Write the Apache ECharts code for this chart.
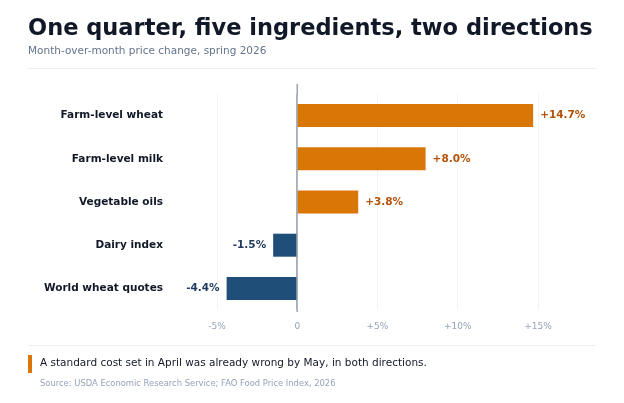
<!DOCTYPE html>
<html>
<head>
<meta charset="utf-8">
<script src="https://cdn.jsdelivr.net/npm/echarts@6/dist/echarts.min.js"></script>
<style>
  html, body { margin: 0; padding: 0; background: #fff; }
  #chart { width: 624px; height: 403px; }
</style>
</head>
<body>
<div id="chart"></div>
<script>
var categories = ['Farm-level wheat', 'Farm-level milk', 'Vegetable oils', 'Dairy index', 'World wheat quotes'];
var changes = [14.7, 8.0, 3.8, -1.5, -4.4];
var tickValues = [-5, 0, 5, 10, 15];

var myChart = echarts.init(document.getElementById('chart'));
var font = 'DejaVu Sans, sans-serif';

option = {
    backgroundColor: '#fff',
    textStyle: { fontFamily: font },
    grid: { left: 217, right: 70, top: 94, bottom: 93 },
    xAxis: {
        type: 'value',
        min: -5,
        max: 16,
        interval: 5,
        axisLine: { show: false },
        axisTick: { show: false },
        splitLine: { showMaxLine: false, lineStyle: { color: '#f1f3f5', width: 1 } },
        axisLabel: {
            color: '#94a3b8',
            fontSize: 9,
            margin: 12,
            customValues: tickValues,
            formatter: function (v) {
                if (v === 0) return '0';
                return (v > 0 ? '+' : '') + v + '%';
            }
        }
    },
    yAxis: {
        type: 'category',
        inverse: true,
        data: categories,
        axisLine: { show: false },
        axisTick: { show: false },
        axisLabel: { color: '#111827', fontSize: 10.5, fontWeight: 'bold', margin: 54 }
    },
    series: [{
        type: 'bar',
        barWidth: 23,
        data: changes.map(function (v) {
            return {
                value: v,
                itemStyle: { color: v >= 0 ? '#d97706' : '#1f4e79' },
                label: {
                    position: v >= 0 ? 'right' : 'left',
                    color: v >= 0 ? '#b45309' : '#1e3a5f'
                }
            };
        }),
        label: {
            show: true,
            fontSize: 10.5,
            fontWeight: 'bold',
            distance: 7,
            formatter: function (p) {
                return (p.value > 0 ? '+' : '') + p.value.toFixed(1) + '%';
            }
        },
        markLine: {
            silent: true,
            symbol: 'none',
            label: { show: false },
            lineStyle: { color: '#9ca3af', width: 1.5, type: 'solid' },
            data: [{ xAxis: 0 }]
        }
    }],
    graphic: [
        { type: 'rect', shape: { x: 296.5, y: 84, width: 1.5, height: 228 }, style: { fill: '#9ca3af' } },
        { type: 'text', left: 28, top: 18, style: { text: 'One quarter, five ingredients, two directions', font: 'bold 22.5px ' + font, fill: '#111827' } },
        { type: 'text', left: 28, top: 46, style: { text: 'Month-over-month price change, spring 2026', font: '10.5px ' + font, fill: '#64748b' } },
        { type: 'rect', shape: { x: 28, y: 68, width: 568, height: 1 }, style: { fill: '#eceff3' } },
        { type: 'rect', shape: { x: 28, y: 345, width: 568, height: 1 }, style: { fill: '#eceff3' } },
        { type: 'rect', shape: { x: 28, y: 355, width: 4, height: 18 }, style: { fill: '#d97706' } },
        { type: 'text', left: 40, top: 358, style: { text: 'A standard cost set in April was already wrong by May, in both directions.', font: '10.5px ' + font, fill: '#111827' } },
        { type: 'text', left: 40, top: 380, style: { text: 'Source: USDA Economic Research Service; FAO Food Price Index, 2026', font: '8.4px ' + font, fill: '#94a3b8' } }
    ]
};
myChart.setOption(option);
</script>
</body>
</html>
